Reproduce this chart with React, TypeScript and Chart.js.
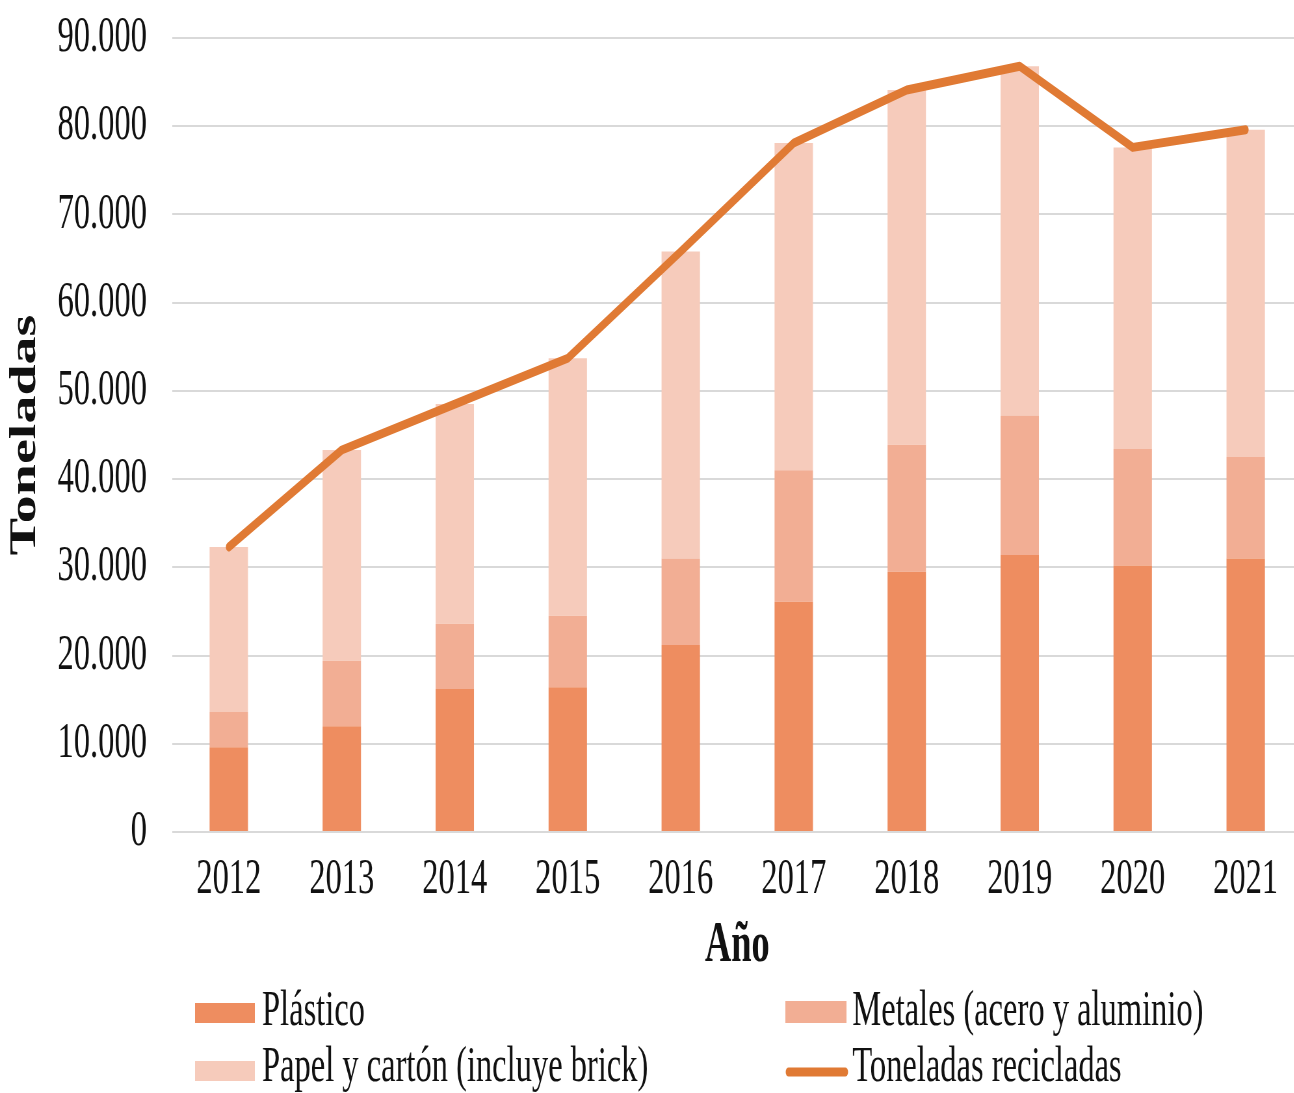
import React, { useEffect, useRef } from "react";
import { Chart, registerables } from "chart.js";

Chart.register(...registerables);

const years = ["2012", "2013", "2014", "2015", "2016", "2017", "2018", "2019", "2020", "2021"];
const plastico = [9600, 12000, 16200, 16400, 21200, 26100, 29500, 31400, 30200, 31000];
const metales = [4000, 7400, 7400, 8100, 9800, 14900, 14400, 15800, 13200, 11500];
const papel = [18700, 23900, 24900, 29200, 34800, 37100, 40200, 39600, 34200, 37100];
const totalReciclado = [32300, 43300, 48500, 53700, 65800, 78100, 84100, 86800, 77600, 79600];

const labelPlastico = "Plástico";
const labelMetales = "Metales (acero y aluminio)";
const labelPapel = "Papel y cartón (incluye brick)";
const labelTotal = "Toneladas recicladas";

const colPlastico = "#EE8D60";
const colMetales = "#F2AE94";
const colPapel = "#F6CBBB";
const colLine = "#E07A34";

const FONT = "'Liberation Serif', 'Times New Roman', serif";
const SQUEEZE = 0.65;
const PAGE_W = 1294;
const DISPLAY_W = 1310;
const DISPLAY_H = 1093;
const INNER_W = Math.round(DISPLAY_W / SQUEEZE);

const fmt = (v: number) => String(v).replace(/\B(?=(\d{3})+(?!\d))/g, ".");

const legendPlugin = {
  id: "customLegend",
  afterDraw(chart: any) {
    const ctx = chart.ctx as CanvasRenderingContext2D;
    ctx.save();
    ctx.font = `50px ${FONT}`;
    ctx.fillStyle = "#111";
    ctx.textBaseline = "alphabetic";
    ctx.textAlign = "left";
    // row 1
    ctx.fillStyle = colPlastico;
    ctx.fillRect(300, 1003, 92, 20);
    ctx.fillStyle = colMetales;
    ctx.fillRect(1208, 1001, 94, 22);
    ctx.fillStyle = "#111";
    ctx.fillText(labelPlastico, 403, 1025);
    ctx.fillText(labelMetales, 1311, 1025);
    // row 2
    ctx.fillStyle = colPapel;
    ctx.fillRect(300, 1061, 92, 20);
    ctx.strokeStyle = colLine;
    ctx.lineWidth = 9;
    ctx.lineCap = "round";
    ctx.beginPath();
    ctx.moveTo(1213, 1072);
    ctx.lineTo(1300, 1072);
    ctx.stroke();
    ctx.fillStyle = "#111";
    ctx.fillText(labelPapel, 403, 1081);
    ctx.fillText(labelTotal, 1311, 1081);
    ctx.restore();
  },
};

export default function App() {
  const ref = useRef<HTMLCanvasElement | null>(null);

  useEffect(() => {
    document.body.style.margin = "0";
    const canvas = ref.current;
    if (!canvas) return;
    const chart = new Chart(canvas, {
      type: "bar",
      data: {
        labels: years,
        datasets: [
          {
            type: "line",
            label: labelTotal,
            data: totalReciclado,
            borderColor: colLine,
            backgroundColor: colLine,
            borderWidth: 9,
            pointRadius: 0,
            borderCapStyle: "round",
            borderJoinStyle: "round",
            tension: 0,
            order: 0,
          } as any,
          {
            label: labelPlastico,
            data: plastico,
            backgroundColor: colPlastico,
            borderWidth: 0,
            order: 1,
          },
          {
            label: labelMetales,
            data: metales,
            backgroundColor: colMetales,
            borderWidth: 0,
            order: 1,
          },
          {
            label: labelPapel,
            data: papel,
            backgroundColor: colPapel,
            borderWidth: 0,
            order: 1,
          },
        ],
      },
      options: {
        animation: false,
        responsive: false,
        devicePixelRatio: 1,
        datasets: {
          bar: { barPercentage: 0.34, categoryPercentage: 1 },
        },
        layout: { autoPadding: false, padding: { top: 38, left: 0, right: 12, bottom: 113 } },
        plugins: {
          legend: { display: false },
          tooltip: { enabled: false },
        },
        scales: {
          x: {
            stacked: true,
            grid: { display: false, drawTicks: false },
            border: { display: false },
            ticks: {
              padding: 18,
              color: "#111",
              font: { family: FONT, size: 50 },
              maxRotation: 0,
            },
            title: {
              display: true,
              text: "Año",
              color: "#111",
              font: { family: FONT, size: 56, weight: "bold" },
              padding: { top: 0, bottom: 0 },
            },
            afterFit(scale: any) {
              scale.height = 148;
              scale.paddingLeft = 0;
              scale.paddingRight = 0;
            },
          },
          y: {
            stacked: true,
            min: 0,
            max: 90000,
            grid: { color: "#d9d9d9", lineWidth: 2, drawTicks: false },
            border: { display: false },
            ticks: {
              stepSize: 10000,
              padding: 39,
              color: "#111",
              font: { family: FONT, size: 50 },
              callback: (v: any) => fmt(Number(v)),
            },
            title: {
              display: true,
              text: "Toneladas",
              color: "#111",
              font: { family: FONT, size: 56, weight: "bold" },
              padding: { top: 6, bottom: 0 },
            },
            afterFit(scale: any) {
              scale.width = 265;
              scale.paddingTop = 0;
              scale.paddingBottom = 0;
            },
          },
        },
      } as any,
      plugins: [legendPlugin],
    });
    return () => chart.destroy();
  }, []);

  return (
    <div style={{ width: `${PAGE_W}px`, height: `${DISPLAY_H}px`, overflow: "hidden" }}>
      <canvas
        ref={ref}
        width={INNER_W}
        height={DISPLAY_H}
        style={{ width: `${DISPLAY_W}px`, height: `${DISPLAY_H}px`, display: "block" }}
      />
    </div>
  );
}
